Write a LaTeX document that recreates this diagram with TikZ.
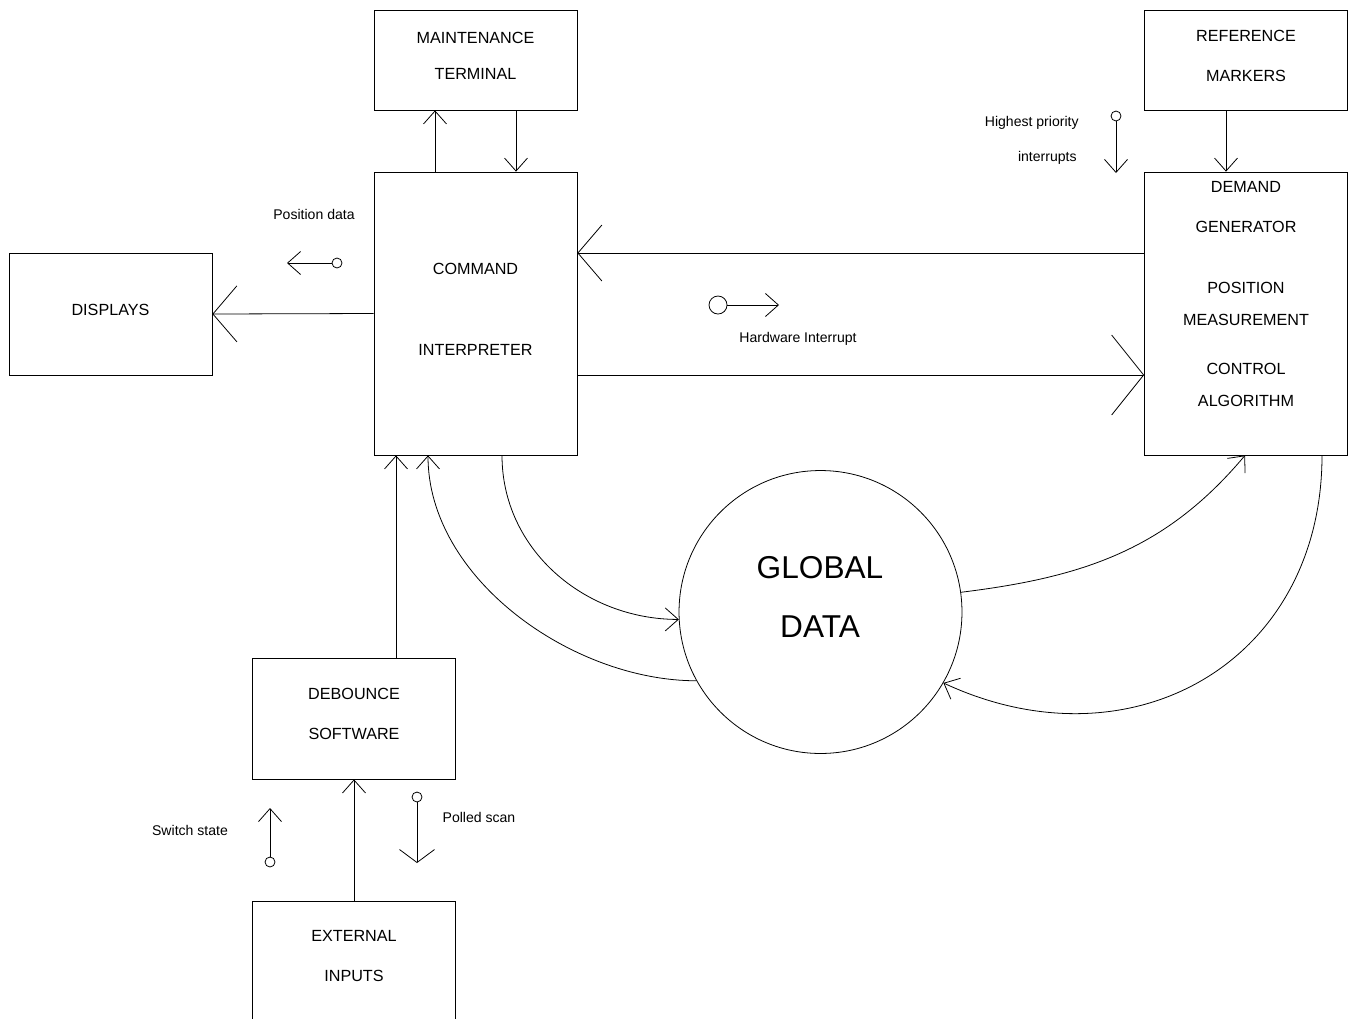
\documentclass[tikz,border=0pt]{standalone}
\usepackage{fontspec}
\setmainfont{Liberation Sans}
\usetikzlibrary{arrows.meta,calc}

\begin{document}
\begin{tikzpicture}[
            x = 0.02cm, y = 0.02cm,
            line width = 0.45pt,
            box/.style = {draw, minimum width = 4.06cm, minimum height = 2cm, inner sep = 0pt,
                          text depth = 0.18cm, align = center, font = \fontsize{9.2}{20.5}\selectfont},
            boxtext/.style = {inner sep = 0pt, align = center, font = \fontsize{9.2}{22.8}\selectfont},
            lbl/.style = {inner sep = 0pt, font = \fontsize{8}{9.6}\selectfont},
            dot/.style = {draw, circle, minimum size = 0.2cm, inner sep = 0pt},
            sm/.style = {-{Straight Barb[length = 0.26cm, width = 0.46cm]}},
            big/.style = {-{Straight Barb[length = 0.48cm, width = 1.12cm]}},
            bigger/.style = {-{Straight Barb[length = 0.64cm, width = 1.6cm]}}
            ]
            \useasboundingbox (0,0) rectangle (1351,-1018);
            % boxes
            \node[box] (maint) at (475.5,-60) {MAINTENANCE\\TERMINAL};
            \node[box, font = \fontsize{9.2}{22.8}\selectfont] (refm) at (1246,-60) {REFERENCE\\MARKERS};
            \node[box, minimum height = 5.66cm, font = \fontsize{9.2}{46}\selectfont] (cmd) at (475.5,-313.5) {COMMAND\\INTERPRETER};
            \node[box, minimum height = 5.66cm] (dem) at (1246,-313.5) {};
            \node[boxtext, font = \fontsize{9.2}{18.2}\selectfont] (demtxt) at (1246,-294)
                {DEMAND\\[4.6pt]GENERATOR\\[16.5pt]POSITION\\MEASUREMENT\\[9.7pt]CONTROL\\ALGORITHM};
            \node[box, minimum height = 2.44cm] (disp) at (110.5,-314) {DISPLAYS};
            \node[box, minimum height = 2.42cm, font = \fontsize{9.2}{22.8}\selectfont] (deb) at (354,-718.5) {DEBOUNCE\\SOFTWARE};
            \node[box, minimum height = 2.58cm] (ext) at (354,-965.5) {};
            \node[boxtext] (exttxt) at (354,-956) {EXTERNAL\\INPUTS};
            % global data
            \node[draw, circle, minimum size = 5.66cm, inner sep = 0pt] (gdata) at (820.5,-612) {};
            \node[inner sep = 0pt, align = center, font = \fontsize{18}{34}\selectfont] (gtxt) at (820,-597) {GLOBAL\\DATA};
            % straight flows
            \draw[sm] ($(maint.south)+(40.5,0)$) -- ($(cmd.north)+(40.5,0)$);
            \draw[sm] ($(cmd.north)+(-40.5,0)$) -- ($(maint.south)+(-40.5,0)$);
            \draw[sm] ($(refm.south)+(-20,0)$) -- ($(dem.north)+(-20,0)$);
            \draw[big] (cmd.west) -- (disp.east);
            \draw[big] ($(dem.west)+(0,60.5)$) -- ($(cmd.east)+(0,60.5)$);
            \draw[bigger] ($(cmd.east)+(0,-61.5)$) -- ($(dem.west)+(0,-61.5)$);
            \draw[sm] ($(deb.north)+(42,0)$) -- ($(cmd.south)+(-79.5,0)$);
            \draw[sm] (ext.north) -- (deb.south);
            % curved flows
            \draw[sm] ($(cmd.south)+(26.5,0)$) to[out = -90, in = 180] (gdata.183);
            \draw[sm] (gdata.209) to[out = 180, in = -90, looseness = 0.9] ($(cmd.south)+(-47.5,0)$);
            \draw[sm] (gdata.8) to[out = 7, in = -130] ($(dem.south)+(-1,0)$);
            \draw[sm] ($(dem.south)+(76,0)$) to[out = -90, in = -25, looseness = 1.2] (gdata.-30);
            % signal flags
            \node[dot] (pdot) at (337,-263) {};
            \coordinate (pend) at (287,-263);
            \draw[sm] (pdot) -- (pend);
            \node[lbl] (plbl) at (314,-214) {Position data};
            \node[dot, minimum size = 0.36cm] (hdot) at (718,-305) {};
            \coordinate (hend) at (779,-305);
            \draw[sm] (hdot) -- (hend);
            \node[lbl] (hlbl) at (798,-339) {Hardware Interrupt};
            \node[dot] (idot) at (1116,-116) {};
            \coordinate (iend) at (1116,-173);
            \draw[sm] (idot) -- (iend);
            \node[lbl, anchor = base east] (ilbla) at (1079,-126) {Highest priority};
            \node[lbl, anchor = base east] (ilblb) at (1077,-161) {interrupts};
            \node[dot] (sdot) at (270,-862) {};
            \coordinate (send) at (270,-808);
            \draw[sm] (sdot) -- (send);
            \node[lbl] (slbl) at (190,-830) {Switch state};
            \node[dot] (qdot) at (417,-797) {};
            \coordinate (qend) at (417,-863);
            \draw[-{Straight Barb[length = 0.26cm, width = 0.7cm]}] (qdot) -- (qend);
            \node[lbl] (qlbl) at (479,-817) {Polled scan};
\end{tikzpicture}
\end{document}
